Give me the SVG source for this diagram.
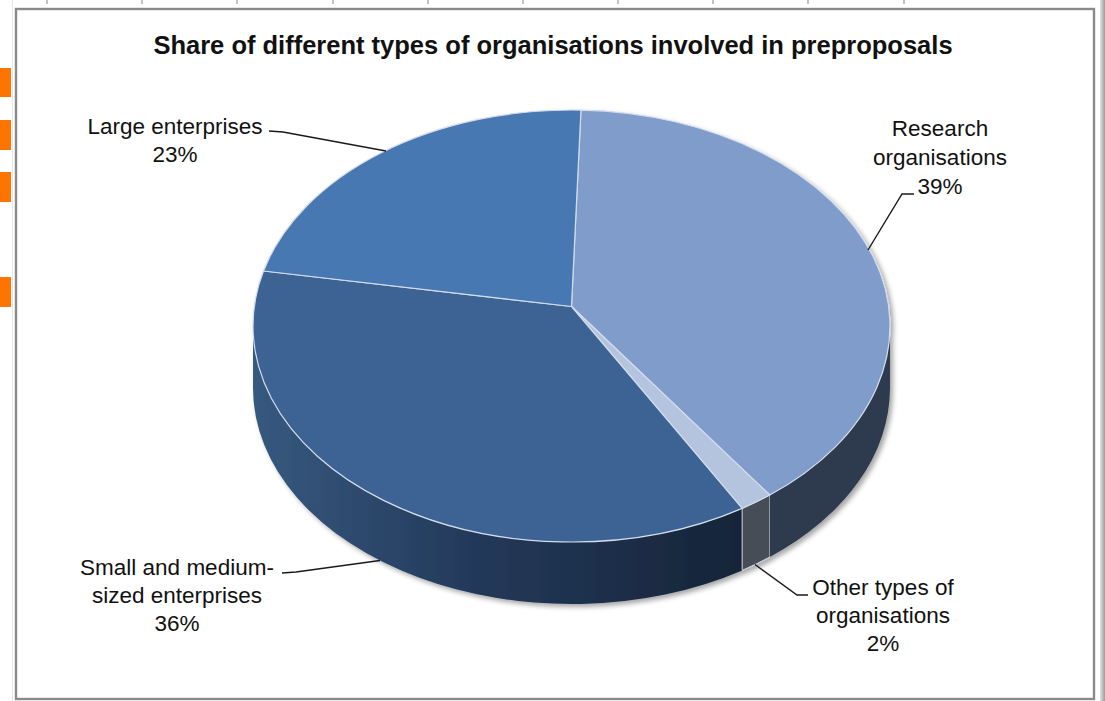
<svg xmlns="http://www.w3.org/2000/svg" width="1105" height="701" viewBox="0 0 1105 701">
<style>
.lbl{font-family:"Liberation Sans",Arial,sans-serif;font-size:22.5px;fill:#111;text-anchor:middle}
.title{font-family:"Liberation Sans",Arial,sans-serif;font-size:25.5px;font-weight:bold;fill:#111;text-anchor:middle}
.lead{fill:none;stroke:#1a1a1a;stroke-width:1.4}
.sep{stroke:#d3dcec;stroke-width:1.2;stroke-linejoin:round}
.tick{stroke:#9a9a9a;stroke-width:1.2}
.mark{fill:#ff7300}
</style>
<defs>
<linearGradient id="smeSide" gradientUnits="userSpaceOnUse" x1="253" y1="0" x2="742" y2="0">
<stop offset="0" stop-color="#37597f"/>
<stop offset="0.45" stop-color="#23395a"/>
<stop offset="1" stop-color="#162438"/>
</linearGradient>
<linearGradient id="edge" x1="0" y1="0" x2="1" y2="0">
<stop offset="0" stop-color="#e2e2e2"/>
<stop offset="1" stop-color="#9c9c9c"/>
</linearGradient>
<filter id="shadow" x="-10%" y="-10%" width="120%" height="130%">
<feDropShadow dx="3" dy="3" stdDeviation="2.5" flood-color="#000" flood-opacity="0.35"/>
</filter>
</defs>
<rect width="1105" height="701" fill="#ffffff"/>
<g id="ruler">
<line class="tick" x1="47" y1="0" x2="47" y2="4"/>
<line class="tick" x1="142" y1="0" x2="142" y2="4"/>
<line class="tick" x1="237" y1="0" x2="237" y2="4"/>
<line class="tick" x1="333" y1="0" x2="333" y2="4"/>
<line class="tick" x1="428" y1="0" x2="428" y2="4"/>
<line class="tick" x1="523" y1="0" x2="523" y2="4"/>
<line class="tick" x1="618" y1="0" x2="618" y2="4"/>
<line class="tick" x1="713" y1="0" x2="713" y2="4"/>
<line class="tick" x1="808" y1="0" x2="808" y2="4"/>
<line class="tick" x1="904" y1="0" x2="904" y2="4"/>
</g>
<g id="markers">
<rect class="mark" x="0" y="68" width="11" height="29"/>
<rect class="mark" x="0" y="120" width="11" height="30"/>
<rect class="mark" x="0" y="172" width="11" height="30"/>
<rect class="mark" x="0" y="277" width="11" height="30"/>
<line x1="12.5" y1="0" x2="12.5" y2="701" stroke="#e6e6e6" stroke-width="1"/>
</g>
<g id="frame">
<rect x="16" y="9" width="1078" height="690" fill="none" stroke="#8a8a8a" stroke-width="2.4"/>
<rect x="1100" y="0" width="5" height="701" fill="url(#edge)"/>
</g>
<g id="title">
<text class="title" x="553" y="54">Share of different types of organisations involved in preproposals</text>
</g>
<g id="pie" filter="url(#shadow)">
<g id="node-sme-side">
<path d="M742.16,508.38 A318.5 216 0 0 1 253,326 L253,388 A318.5 216 0 0 0 742.16,570.38 Z" fill="url(#smeSide)"/>
</g>
<g id="node-other-side">
<path d="M769.77,495.04 A318.5 216 0 0 1 742.16,508.38 L742.16,570.38 A318.5 216 0 0 0 769.77,557.04 Z" fill="#474d57" stroke="#c9d1de" stroke-width="1"/>
</g>
<g id="node-research-side">
<path d="M890,326 A318.5 216 0 0 1 769.77,495.04 L769.77,557.04 A318.5 216 0 0 0 890,388 Z" fill="#2f3b50"/>
</g>
<g id="node-research">
<path class="sep" d="M571.5,306.5 L580.95,110.1 A318.5 216 0 0 1 769.77,495.04 Z" fill="#7f9cca"/>
</g>
<g id="node-other">
<path class="sep" d="M571.5,306.5 L769.77,495.04 A318.5 216 0 0 1 742.16,508.38 Z" fill="#b4c3de"/>
</g>
<g id="node-sme">
<path class="sep" d="M571.5,306.5 L742.16,508.38 A318.5 216 0 0 1 263.5,271 Z" fill="#3c6495"/>
</g>
<g id="node-large">
<path class="sep" d="M571.5,306.5 L263.5,271 A318.5 216 0 0 1 580.95,110.1 Z" fill="#4778b1"/>
</g>
</g>
<g id="labels">
<text class="lbl" x="175" y="134">Large enterprises</text>
<text class="lbl" x="175" y="162">23%</text>
<text class="lbl" x="940" y="136">Research</text>
<text class="lbl" x="940" y="165">organisations</text>
<text class="lbl" x="940" y="194">39%</text>
<text class="lbl" x="177" y="575">Small and medium-</text>
<text class="lbl" x="177" y="603">sized enterprises</text>
<text class="lbl" x="177" y="631">36%</text>
<text class="lbl" x="883" y="595">Other types of</text>
<text class="lbl" x="883" y="623">organisations</text>
<text class="lbl" x="883" y="651">2%</text>
</g>
<g id="connectors">
<polyline class="lead" points="269,131 283,132 386,151"/>
<polyline class="lead" points="914,194 902,194 868,250"/>
<polyline class="lead" points="282,573 296,572 380,560.5"/>
<polyline class="lead" points="755,564.5 797,595 808,595"/>
</g>
</svg>
